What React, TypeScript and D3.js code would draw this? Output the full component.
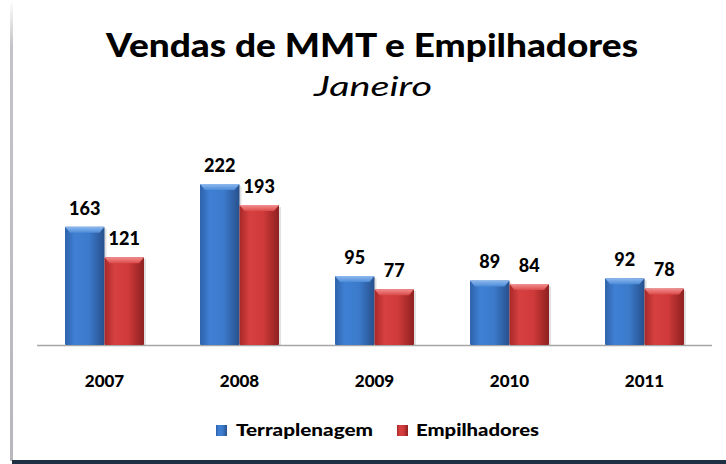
import React from "react";
import * as d3 from "d3";

const years = ["2007", "2008", "2009", "2010", "2011"];
const terraplenagem = [163, 222, 95, 89, 92];
const empilhadores = [121, 193, 77, 84, 78];
const seriesNames = ["Terraplenagem", "Empilhadores"];

const W = 726;
const H = 464;

export default function App() {
  const x0 = d3.scaleBand<string>().domain(years).range([37, 712]).paddingInner(0.415).paddingOuter(0.2075);
  const x1 = d3.scaleBand<string>().domain(seriesNames).range([0, x0.bandwidth()]);
  const y = d3.scaleLinear().domain([0, 222]).range([345, 184]);
  const series = [terraplenagem, empilhadores];
  const font = "Lato, 'Open Sans', sans-serif";
  return (
    <svg width={W} height={H} style={{ position: "absolute", left: 0, top: 0 }}>
      <defs>
        <linearGradient id="gBlue" x1="0" x2="1" y1="0" y2="0">
          <stop offset="0" stopColor="#2E62AA" />
          <stop offset="0.25" stopColor="#3F80D4" />
          <stop offset="0.6" stopColor="#3C7BCB" />
          <stop offset="1" stopColor="#27508C" />
        </linearGradient>
        <linearGradient id="gRed" x1="0" x2="1" y1="0" y2="0">
          <stop offset="0" stopColor="#A82828" />
          <stop offset="0.25" stopColor="#D64040" />
          <stop offset="0.6" stopColor="#D03A3A" />
          <stop offset="1" stopColor="#8E2020" />
        </linearGradient>
        <linearGradient id="gTopB" x1="0" x2="0" y1="0" y2="1">
          <stop offset="0" stopColor="#8DB9EE" />
          <stop offset="1" stopColor="#4C8BD8" />
        </linearGradient>
        <linearGradient id="gTopR" x1="0" x2="0" y1="0" y2="1">
          <stop offset="0" stopColor="#F29090" />
          <stop offset="1" stopColor="#DC4A4A" />
        </linearGradient>
        <linearGradient id="leftLine" x1="0" x2="0" y1="0" y2="1">
          <stop offset="0" stopColor="#ffffff" />
          <stop offset="0.1" stopColor="#c4c4c8" />
          <stop offset="1" stopColor="#b8b8bc" />
        </linearGradient>
      </defs>
      <rect x={0} y={0} width={W} height={H} fill="#fff" />
      <rect x={10} y={0} width={3} height={461} fill="url(#leftLine)" />
      <rect x={12} y={460} width={W - 12} height={4} fill="#1F2F44" />
      <text x={372} y={57} textAnchor="middle" fontFamily={font} fontWeight={900} fontSize={33} textLength={532} lengthAdjust="spacingAndGlyphs">
        Vendas de MMT e Empilhadores
      </text>
      <text x={373} y={96} textAnchor="middle" fontFamily={font} fontStyle="italic" fontSize={27} textLength={118} lengthAdjust="spacingAndGlyphs">
        Janeiro
      </text>
      <line x1={37} x2={712} y1={345.5} y2={345.5} stroke="#A6A6A6" strokeWidth={1.5} />
      {years.map((yr, i) => (
        <g key={yr}>
          {series.map((vals, s) => {
            const bx = (x0(yr) as number) + (x1(seriesNames[s]) as number);
            const bw = x1.bandwidth();
            const by = y(vals[i]);
            const bh = y(0) - by;
            return (
              <g key={s}>
                <rect x={bx + 2} y={by + 2} width={bw} height={bh - 2} fill="#000" opacity={0.12} />
                <rect x={bx} y={by} width={bw} height={bh} fill={s === 0 ? "url(#gBlue)" : "url(#gRed)"} rx={1} />
                <path d={`M${bx},${by} L${bx + bw},${by} L${bx + bw - 5},${by + 6} L${bx + 5},${by + 6} Z`} fill={s === 0 ? "url(#gTopB)" : "url(#gTopR)"} />
                <text x={bx + bw / 2} y={by - 12} textAnchor="middle" fontFamily={font} fontWeight={900} fontSize={18}>
                  {vals[i]}
                </text>
              </g>
            );
          })}
          <text x={(x0(yr) as number) + x0.bandwidth() / 2} y={387} textAnchor="middle" fontFamily={font} fontWeight={900} fontSize={17}>
            {yr}
          </text>
        </g>
      ))}
      <g>
        <rect x={216} y={425} width={11} height={11} fill="url(#gBlue)" />
        <text x={236} y={436} fontFamily={font} fontWeight={900} fontSize={16} textLength={137} lengthAdjust="spacingAndGlyphs">
          {seriesNames[0]}
        </text>
        <rect x={397} y={425} width={11} height={11} fill="url(#gRed)" />
        <text x={416} y={436} fontFamily={font} fontWeight={900} fontSize={16} textLength={123} lengthAdjust="spacingAndGlyphs">
          {seriesNames[1]}
        </text>
      </g>
    </svg>
  );
}
